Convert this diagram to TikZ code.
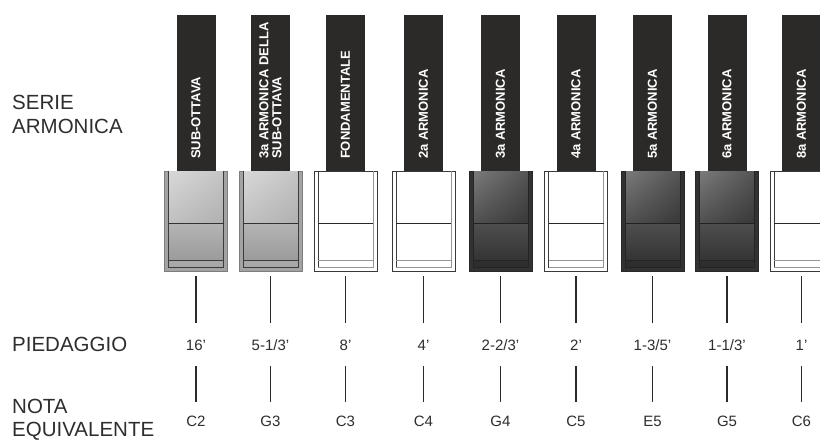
\documentclass[tikz,border=0pt]{standalone}
\usepackage{fontspec}
\usetikzlibrary{shadings}
\setmainfont{Liberation Sans}
\definecolor{txt}{HTML}{2E2E2E}
\definecolor{barc}{HTML}{2B2A29}
\definecolor{conc}{HTML}{2A2A2A}
\tikzset{
  keyouter/.style={minimum width=63pt, minimum height=100.5pt, inner sep=0pt, line width=0.8pt},
  Gouter/.style={fill={rgb,255:red,163;green,163;blue,163}, draw={rgb,255:red,125;green,125;blue,125}},
  Gtop/.style={upper left={rgb,255:red,216;green,216;blue,216}, upper right={rgb,255:red,196;green,196;blue,196}, lower left={rgb,255:red,192;green,192;blue,192}, lower right={rgb,255:red,176;green,176;blue,176}},
  Glow/.style={top color={rgb,255:red,180;green,180;blue,180}, bottom color={rgb,255:red,155;green,155;blue,155}},
  Gstrip/.style={fill={rgb,255:red,168;green,168;blue,168}},
  Gleft/.style={draw={rgb,255:red,60;green,60;blue,60}, line width=0.8pt},
  Gright/.style={draw={rgb,255:red,60;green,60;blue,60}, line width=0.8pt},
  Gbot/.style={draw={rgb,255:red,60;green,60;blue,60}, line width=0.8pt},
  Gdiv/.style={draw={rgb,255:red,50;green,50;blue,50}, line width=0.9pt},
  Douter/.style={fill={rgb,255:red,50;green,50;blue,50}, draw={rgb,255:red,40;green,40;blue,40}},
  Dtop/.style={upper left={rgb,255:red,122;green,122;blue,122}, upper right={rgb,255:red,84;green,84;blue,84}, lower left={rgb,255:red,80;green,80;blue,80}, lower right={rgb,255:red,56;green,56;blue,56}},
  Dlow/.style={top color={rgb,255:red,78;green,78;blue,78}, bottom color={rgb,255:red,52;green,52;blue,52}},
  Dstrip/.style={fill={rgb,255:red,46;green,46;blue,46}},
  Dleft/.style={draw={rgb,255:red,36;green,36;blue,36}, line width=0.8pt},
  Dright/.style={draw={rgb,255:red,36;green,36;blue,36}, line width=0.8pt},
  Dbot/.style={draw={rgb,255:red,36;green,36;blue,36}, line width=0.8pt},
  Ddiv/.style={draw={rgb,255:red,34;green,34;blue,34}, line width=0.9pt},
  Wouter/.style={fill=white, draw={rgb,255:red,58;green,58;blue,58}},
  Wtop/.style={fill=white},
  Wlow/.style={fill=white},
  Wstrip/.style={fill=white},
  Wleft/.style={draw={rgb,255:red,60;green,60;blue,60}, line width=0.8pt},
  Wright/.style={draw={rgb,255:red,150;green,150;blue,150}, line width=0.9pt},
  Wbot/.style={draw={rgb,255:red,150;green,150;blue,150}, line width=0.9pt},
  Wdiv/.style={draw={rgb,255:red,40;green,40;blue,40}, line width=0.9pt},
  barnode/.style={fill=barc, minimum width=39pt, minimum height=156pt, inner sep=0pt},
  bartext/.style={rotate=90, anchor=west, inner sep=0pt, align=left, text=white,
    font=\fontsize{13}{13}\selectfont\bfseries},
  pielab/.style={anchor=base, inner sep=0pt, text height=11pt, text depth=0pt, text=txt,
    font=\fontsize{15}{15}\selectfont},
  notelab/.style={anchor=base, inner sep=0pt, text height=11pt, text depth=0pt, text=txt,
    font=\fontsize{15}{15}\selectfont},
  rowlab/.style={inner sep=0pt, align=left, text=txt, font=\fontsize{20.5}{24}\selectfont},
  conn/.style={draw=conc, line width=1.6pt}
}
% #1 index, #2 x, #3 kind, #4 bar text, #5 foot, #6 note
\newcommand\organcol[6]{%
  \node[keyouter, #3outer] (k#1) at (#2,221.25) {};
  \path[#3top] ({#2-27.5},171.9) rectangle ({#2+27.5},223.5);
  \path[#3low] ({#2-27.5},223.5) rectangle ({#2+27.5},260);
  \path[#3strip] ({#2-27.5},260) rectangle ({#2+27.5},267.5);
  \path[#3left] ({#2-27.5},171.4) -- ({#2-27.5},267.5);
  \path[#3right] ({#2+27.5},171.4) -- ({#2+27.5},267.5);
  \path[#3bot] ({#2-27.5},260) -- ({#2+27.5},260) ({#2-27.5},267.5) -- ({#2+27.5},267.5);
  \path[#3div] ({#2-27.5},223.5) -- ({#2+27.5},223.5);
  \node[barnode] (b#1) at (#2,93) {};
  \node[bartext] (t#1) at ([yshift=12pt]b#1.south) {#4};
  \node[pielab] (p#1) at (#2,350) {#5};
  \node[notelab] (n#1) at (#2,426.7) {#6};
  \draw[conn, shorten <=4.5pt, shorten >=16pt] (k#1.south) -- (p#1.north);
  \draw[conn, shorten <=16pt, shorten >=13.7pt] (p#1.south) -- (n#1.north);
}
\begin{document}
\begin{tikzpicture}[x=1pt, y=-1pt]
  \useasboundingbox (0,0) rectangle (820,441);
  \clip (0,0) rectangle (820,441);
  \fill[white] (0,0) rectangle (820,441);
  \node[rowlab, anchor=north west] (serie) at (12,95) {SERIE\\ARMONICA};
  \node[rowlab, anchor=base west] (pied) at (12,351.7) {PIEDAGGIO};
  \node[rowlab, anchor=north west, font=\fontsize{20.5}{22.5}\selectfont] (nota) at (12,399) {NOTA\\EQUIVALENTE};
  \organcol{1}{196}{G}{SUB-OTTAVA}{16’}{C2}
  \organcol{2}{270.5}{G}{3a ARMONICA DELLA\\SUB-OTTAVA}{5-1/3’}{G3}
  \organcol{3}{345.5}{W}{FONDAMENTALE}{8’}{C3}
  \organcol{4}{423.5}{W}{2a ARMONICA}{4’}{C4}
  \organcol{5}{500.5}{D}{3a ARMONICA}{2-2/3’}{G4}
  \organcol{6}{576}{W}{4a ARMONICA}{2’}{C5}
  \organcol{7}{652.5}{D}{5a ARMONICA}{1-3/5’}{E5}
  \organcol{8}{727}{D}{6a ARMONICA}{1-1/3’}{G5}
  \organcol{9}{801.5}{W}{8a ARMONICA}{1’}{C6}
\end{tikzpicture}
\end{document}
